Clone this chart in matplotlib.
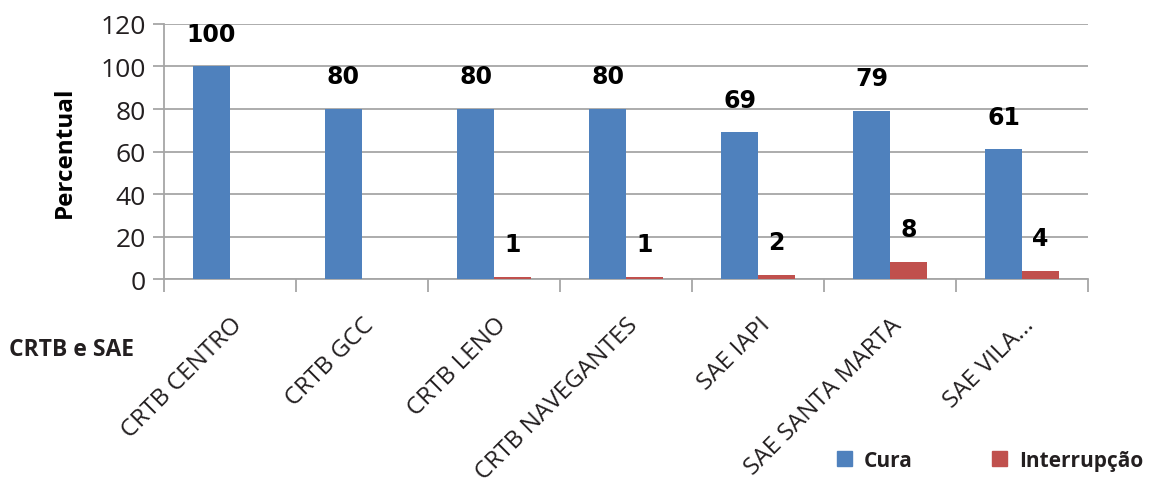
import matplotlib.pyplot as plt
import numpy as np

categories = ['CRTB CENTRO', 'CRTB GCC', 'CRTB LENO', 'CRTB NAVEGANTES',
              'SAE IAPI', 'SAE SANTA MARTA', 'SAE VILA...']
cura = [100, 80, 80, 80, 69, 79, 61]
interrupcao = [0, 0, 1, 1, 2, 8, 4]

blue = '#4F81BD'
red = '#C0504D'
grid_color = '#A6A6A6'

fig = plt.figure(figsize=(11.54, 4.89), dpi=100)
ax = fig.add_axes([0.142, 0.427, 0.801, 0.522])

x = np.arange(len(categories))
w = 0.28
ax.bar(x - w / 2, cura, w, color=blue, zorder=3)
ax.bar(x + w / 2, interrupcao, w, color=red, zorder=3)

for xi, v in zip(x, cura):
    ax.annotate(str(v), (xi - w / 2, v), xytext=(0, 15), textcoords='offset points',
                ha='center', va='bottom', fontsize=17, fontweight='bold',
                family='DejaVu Sans')
for xi, v in zip(x, interrupcao):
    if v > 0:
        ax.annotate(str(v), (xi + w / 2, v), xytext=(0, 15), textcoords='offset points',
                    ha='center', va='bottom', fontsize=17, fontweight='bold',
                    family='DejaVu Sans')

ax.set_xlim(-0.5, len(categories) - 0.5)
ax.set_ylim(0, 120)
ax.set_yticks(range(0, 121, 20))
ax.yaxis.grid(True, color=grid_color, linewidth=1.3, zorder=0)
ax.set_axisbelow(True)

for s in ['top', 'right']:
    ax.spines[s].set_visible(False)
ax.spines['left'].set_color(grid_color)
ax.spines['bottom'].set_color(grid_color)
ax.spines['left'].set_linewidth(1.3)
ax.spines['bottom'].set_linewidth(1.3)

ax.set_xticks(np.arange(len(categories) + 1) - 0.5, minor=False)
ax.set_xticklabels([])
ax.tick_params(axis='x', length=9, color=grid_color, width=1.3)
ax.set_xticks(x, minor=True)
ax.set_xticklabels(categories, minor=True, rotation=45, ha='right',
                   rotation_mode='anchor', fontsize=17.5, family='Open Sans',
                   color='#231F20')
ax.tick_params(axis='x', which='minor', length=0, pad=24)
ax.tick_params(axis='y', length=8, color=grid_color, width=1.3,
               labelsize=19, pad=5)
for lbl in ax.get_yticklabels():
    lbl.set_family('Open Sans')
    lbl.set_color('#231F20')

ax.set_ylabel('Percentual', fontsize=17.5, fontweight='bold', family='Open Sans',
              labelpad=17)

fig.text(0.008, 0.285, 'CRTB e SAE', fontsize=16.5, fontweight='bold',
         family='Open Sans', color='#231F20', va='center')

h1 = plt.Rectangle((0, 0), 1, 1, color=blue)
h2 = plt.Rectangle((0, 0), 1, 1, color=red)
leg = fig.legend([h1, h2], ['Cura', 'Interrupção'], loc='center left',
                 bbox_to_anchor=(0.725, 0.057), ncol=2, frameon=False,
                 borderpad=0, borderaxespad=0,
                 handlelength=0.75, handleheight=0.75, handletextpad=0.55,
                 columnspacing=3.8, prop={'family': 'Open Sans', 'weight': 'bold', 'size': 15})
for t in leg.get_texts():
    t.set_color('#231F20')

fig.savefig('out.png', dpi=100)
